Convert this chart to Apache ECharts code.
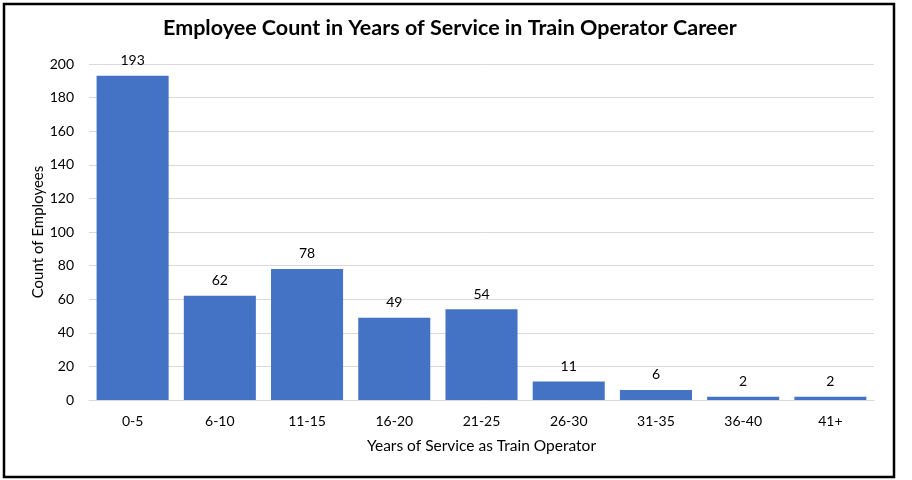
<!DOCTYPE html>
<html><head><meta charset="utf-8">
<script src="https://cdn.jsdelivr.net/npm/echarts@6/dist/echarts.min.js"></script>
<style>html,body{margin:0;padding:0;background:#fff}#c{width:912px;height:480px}</style>
</head><body><div id="c"></div>
<script>
const categories = ['0-5','6-10','11-15','16-20','21-25','26-30','31-35','36-40','41+'];
const counts = [193, 62, 78, 49, 54, 11, 6, 2, 2];
const yTicks = {min: 0, max: 200, interval: 20};
const FONT = 'Lato';
const chart = echarts.init(document.getElementById('c'));
chart.setOption({
  animation: false,
  title: {text: 'Employee Count in Years of Service in Train Operator Career', left: 158, top: 12,
    textStyle: {fontFamily: FONT, fontSize: 21.5, fontWeight: 'bold', color: '#000'}},
  graphic: [{type: 'rect', shape: {x: 4, y: 4, width: 890, height: 473}, style: {fill: 'none', stroke: '#000', lineWidth: 2.5}, silent: true}],
  grid: {left: 89, right: 38, top: 64, bottom: 80, containLabel: false},
  xAxis: {type: 'category', data: categories, name: 'Years of Service as Train Operator', nameLocation: 'middle', nameGap: 38,
    nameMoveOverlap: false,
    nameTextStyle: {fontFamily: FONT, fontSize: 15.5, color: '#000'},
    axisLine: {lineStyle: {color: '#d9d9d9'}}, axisTick: {show: false},
    axisLabel: {fontFamily: FONT, fontSize: 14, color: '#000', margin: 14}},
  yAxis: {type: 'value', min: yTicks.min, max: yTicks.max, interval: yTicks.interval,
    name: 'Count of Employees', nameLocation: 'middle', nameGap: 43, nameMoveOverlap: false,
    nameTextStyle: {fontFamily: FONT, fontSize: 15, color: '#000'},
    axisLine: {show: false}, axisTick: {show: false},
    axisLabel: {fontFamily: FONT, fontSize: 14, color: '#000', margin: 15},
    splitLine: {lineStyle: {color: '#d9d9d9'}}},
  series: [{type: 'bar', data: counts, barCategoryGap: '17.4%', itemStyle: {color: '#4472C4'},
    label: {show: true, position: 'top', distance: 8, fontFamily: FONT, fontSize: 14, color: '#000'}}]
});
</script></body></html>
